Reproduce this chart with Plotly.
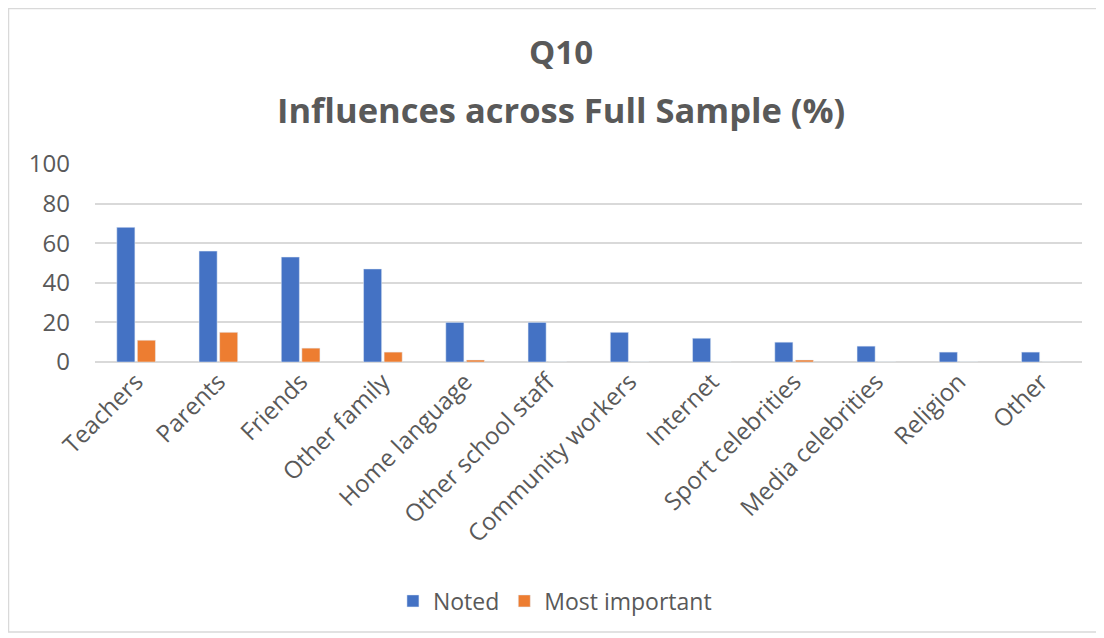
import plotly.graph_objects as go

categories = ["Teachers", "Parents", "Friends", "Other family", "Home language",
              "Other school staff", "Community workers", "Internet", "Sport celebrities",
              "Media celebrities", "Religion", "Other"]
noted = [68, 56, 53, 47, 20, 20, 15, 12, 10, 8, 5, 5]
most_important = [11, 15, 7, 5, 1, 0, 0, 0, 1, 0, 0, 0]
y_ticks = [0, 20, 40, 60, 80, 100]

TXT = "#595959"
FONT = "Open Sans"

fig = go.Figure()
fig.add_trace(go.Bar(name="Noted", x=categories, y=noted, marker_color="#4472C4"))
fig.add_trace(go.Bar(name="Most important", x=categories, y=most_important, marker_color="#ED7D31"))

fig.update_layout(
    width=1096, height=630,
    margin=dict(l=87, r=22, t=156, b=276),
    paper_bgcolor="white", plot_bgcolor="white",
    barmode="group", bargap=0.5, bargroupgap=0.12,
    font=dict(family=FONT, color=TXT, size=23),
    showlegend=True,
    legend=dict(orientation="h", x=0.466, xanchor="center", y=-1.207, yanchor="middle",
                font=dict(size=23, color=TXT), itemwidth=30, traceorder="normal"),
    annotations=[
        dict(text="<b>Q10</b>", x=0.472, y=(362 - 52) / 198, xref="paper", yref="paper",
             xanchor="center", yanchor="middle", showarrow=False,
             font=dict(size=33, color=TXT, family=FONT)),
        dict(text="<b>Influences across Full Sample (%)</b>", x=0.472, y=(362 - 109) / 198,
             xref="paper", yref="paper", xanchor="center", yanchor="middle",
             showarrow=False, font=dict(size=34.5, color=TXT, family=FONT)),
    ],
    shapes=[dict(type="rect", xref="paper", yref="paper",
                 x0=(8.5 - 95) / 987, x1=(1098 - 95) / 987,
                 y0=(362 - 632) / 198, y1=(362 - 8.5) / 198,
                 line=dict(color="#d9d9d9", width=1.5), fillcolor="rgba(0,0,0,0)", layer="below")],
)
fig.update_xaxes(tickangle=-45, tickfont=dict(size=24, color=TXT), showgrid=False,
                 showline=False, ticks="", automargin=False)
fig.update_yaxes(range=[0, 100], tickvals=y_ticks, tickfont=dict(size=24, color=TXT),
                 showgrid=True, gridcolor="#d9d9d9", gridwidth=1.5, zeroline=True,
                 zerolinecolor="#d9d9d9", zerolinewidth=1.5, ticks="", automargin=False,
                 ticklabelstandoff=24)

fig.write_html("out.html")
